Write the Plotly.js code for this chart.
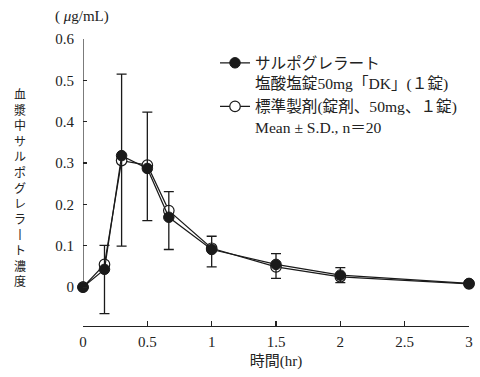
<!DOCTYPE html>
<html><head><meta charset="utf-8">
<script src="https://cdn.plot.ly/plotly-3.0.1.min.js"></script>
<style>html,body{margin:0;padding:0;background:#fff;}#chart{width:480px;height:377px;}</style>
</head><body><div id="chart"></div>
<script>
const timesHr = [0, 0.167, 0.3, 0.5, 0.667, 1, 1.5, 2, 3];
const testMean = [0, 0.043, 0.318, 0.287, 0.169, 0.091, 0.055, 0.029, 0.009];
const refMean  = [0, 0.055, 0.306, 0.295, 0.185, 0.094, 0.049, 0.025, 0.008];
const errTop    = [0, 0.101, 0.515, 0.423, 0.231, 0.123, 0.081, 0.047, 0.014];
const errBottom = [0, -0.064, 0.099, 0.161, 0.091, 0.049, 0.021, 0.011, 0.004];
const testName = 'サルポグレラート<br>塩酸塩錠50mg「DK」(１錠)';
const refName = '標準製剤(錠剤、50mg、１錠)<br>Mean ± S.D., n＝20';
const xTicks = [0, 0.5, 1, 1.5, 2, 2.5, 3];
const xTickText = ['0', '0.5', '1', '1.5', '2', '2.5', '3'];
const yTicks = [0, 0.1, 0.2, 0.3, 0.4, 0.5, 0.6];
const yTickText = ['0', '0.1', '0.2', '0.3', '0.4', '0.5', '0.6'];
const yTitleChars = '血漿中サルポグレラ丨ト濃度';

const FONT = '"Liberation Serif", "Noto Sans CJK JP", serif';
const errPlus = errTop.map((v, i) => v - testMean[i]);
const errMinus = errBottom.map((v, i) => testMean[i] - v);

const traces = [
  {
    x: timesHr, y: refMean, name: refName, type: 'scatter', mode: 'lines+markers',
    line: {color: '#1a1a1a', width: 1.2},
    marker: {symbol: 'circle', size: 10.5, color: '#fff', line: {color: '#1a1a1a', width: 1.2}},
    cliponaxis: false, legendrank: 2
  },
  {
    x: timesHr, y: testMean, name: testName, type: 'scatter', mode: 'lines+markers',
    line: {color: '#1a1a1a', width: 1.2},
    marker: {symbol: 'circle', size: 10.5, color: '#1a1a1a', line: {color: '#1a1a1a', width: 1}},
    error_y: {type: 'data', symmetric: false, array: errPlus, arrayminus: errMinus,
              color: '#1a1a1a', thickness: 1.3, width: 5},
    cliponaxis: false, legendrank: 1
  }
];

const annotations = [
  {xref: 'paper', yref: 'paper', x: -0.002, y: 1.0, yshift: 23, xanchor: 'center', yanchor: 'middle',
   text: '( <i>μ</i>g/mL)', showarrow: false, font: {family: FONT, size: 15, color: '#222'}},
  {xref: 'paper', yref: 'paper', x: 0, xshift: -63, y: 1, yshift: -(83 - 39),
   xanchor: 'center', yanchor: 'top', align: 'center', text: yTitleChars.split('').join('<br>'),
   showarrow: false, font: {family: '"Noto Sans CJK JP", sans-serif', size: 12, color: '#222'}}
];

const layout = {
  width: 480, height: 377,
  margin: {l: 83, r: 11, t: 39, b: 51},
  paper_bgcolor: '#fff', plot_bgcolor: '#fff',
  font: {family: FONT, size: 15, color: '#222'},
  showlegend: true,
  legend: {x: 0.342, y: 0.975, xanchor: 'left', yanchor: 'top', valign: 'top',
           bgcolor: 'rgba(0,0,0,0)', font: {family: FONT, size: 15.6, color: '#222'},
           tracegroupgap: 0, itemwidth: 30},
  xaxis: {range: [0, 3], showline: true, linecolor: '#222', linewidth: 1.2,
          ticks: 'inside', ticklen: 5, tickcolor: '#222', tickwidth: 1.2,
          tickvals: xTicks, ticktext: xTickText, showgrid: false, zeroline: false,
          tickfont: {family: FONT, size: 15, color: '#222'}, ticklabelstandoff: 2,
          title: {text: '時間(hr)', font: {family: FONT, size: 15, color: '#222'}, standoff: 6}},
  yaxis: {range: [-0.094, 0.6], showline: false,
          ticks: 'inside', ticklen: 4, tickcolor: '#222', tickwidth: 1.2,
          tickvals: yTicks, ticktext: yTickText, showgrid: false, zeroline: false,
          tickfont: {family: FONT, size: 15, color: '#222'}, ticklabelstandoff: 8},
  shapes: [
    {type: 'line', xref: 'x', yref: 'y', x0: 0, x1: 0, y0: 0, y1: 0.6, line: {color: '#222', width: 1.2}, layer: 'below'}
  ],
  annotations: annotations
};

Plotly.newPlot('chart', traces, layout, {displayModeBar: false, staticPlot: true});
</script></body></html>
